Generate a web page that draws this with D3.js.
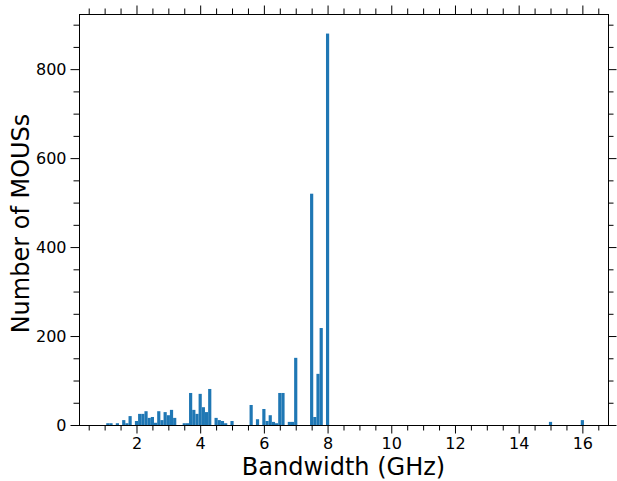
<!DOCTYPE html>
<html>
<head>
<meta charset="utf-8">
<script src="https://cdn.jsdelivr.net/npm/d3@7"></script>
<style>
  body { margin: 0; background: #fff; }
  svg { display: block; }
  text { font-family: "DejaVu Sans", sans-serif; fill: #000; }
</style>
</head>
<body>
<svg id="chart" width="617" height="481"></svg>
<script>
// ---- data (bins 0.1 GHz wide) ----
const binWidth = 0.1;
const binCenters = [1.1, 1.2, 1.4, 1.6, 1.7, 1.8, 2.0, 2.1, 2.2, 2.3, 2.4, 2.5, 2.6, 2.7, 2.8, 2.9,
  3.0, 3.1, 3.2, 3.5, 3.6, 3.7, 3.8, 3.9, 4.0, 4.1, 4.2, 4.3, 4.5, 4.6, 4.7, 4.8, 5.0,
  5.6, 5.8, 6.0, 6.1, 6.2, 6.3, 6.4, 6.5, 6.6, 6.8, 6.9, 7.0, 7.5, 7.6, 7.7, 7.8, 8.0, 15.0, 16.0];
const counts = [4, 4, 4, 11, 4, 20, 9, 25, 25, 31, 16, 18, 5, 31, 11, 29,
  22, 34, 16, 4, 4, 72, 34, 25, 70, 40, 29, 81, 16, 11, 9, 4, 9,
  45, 13, 36, 9, 22, 7, 4, 72, 72, 7, 7, 151, 520, 18, 115, 218, 880, 7, 11];
const dataRange = [0.95, 16.05];
const xMajorTicks = [2, 4, 6, 8, 10, 12, 14, 16];
const yMajorTicks = [0, 200, 400, 600, 800];
const xLabel = "Bandwidth (GHz)";
const yLabel = "Number of MOUSs";

// ---- layout ----
const L = 79, R = 608, T = 14, B = 425;
const svg = d3.select("#chart");
const span = dataRange[1] - dataRange[0];
const x = d3.scaleLinear().domain([dataRange[0] - 0.05 * span, dataRange[1] + 0.05 * span]).range([L, R]);
const yMax = d3.max(counts) * 1.05;
const y = d3.scaleLinear().domain([0, yMax]).range([B, T]);

const xMinor = d3.range(0.5, 16.81, 0.5).filter(v => Math.abs(v / 2 - Math.round(v / 2)) > 1e-6);
const yMinor = d3.range(50, yMax, 50).filter(v => v % 200 !== 0);

// bars
svg.append("g").selectAll("rect").data(binCenters.map((c, i) => ({c, n: counts[i]})))
  .join("rect")
  .attr("x", d => x(d.c - binWidth / 2))
  .attr("width", d => x(d.c + binWidth / 2) - x(d.c - binWidth / 2))
  .attr("y", d => y(d.n))
  .attr("height", d => y(0) - y(d.n))
  .attr("fill", "#1f77b4");

function styleAxis(g) {
  g.select(".domain").remove();
  g.selectAll(".tick line").attr("stroke", "#000").attr("stroke-width", 1);
  g.selectAll(".tick text").style("font-size", "16px").style("font-family", "DejaVu Sans");
}

const MAJ = 8.5, MIN = 5.5, PAD = 4;
// bottom
svg.append("g").attr("transform", `translate(0,${B})`)
  .call(d3.axisBottom(x).tickValues(xMajorTicks).tickSize(MAJ).tickPadding(PAD).tickFormat(d3.format("d")))
  .call(styleAxis);
svg.append("g").attr("transform", `translate(0,${B})`)
  .call(d3.axisBottom(x).tickValues(xMinor).tickSize(MIN).tickFormat(""))
  .call(styleAxis);
// top
svg.append("g").attr("transform", `translate(0,${T})`)
  .call(d3.axisTop(x).tickValues(xMajorTicks).tickSize(MAJ).tickFormat(""))
  .call(styleAxis);
svg.append("g").attr("transform", `translate(0,${T})`)
  .call(d3.axisTop(x).tickValues(xMinor).tickSize(MIN).tickFormat(""))
  .call(styleAxis);
// left
svg.append("g").attr("transform", `translate(${L},0)`)
  .call(d3.axisLeft(y).tickValues(yMajorTicks).tickSize(MAJ).tickPadding(PAD).tickFormat(d3.format("d")))
  .call(styleAxis);
svg.append("g").attr("transform", `translate(${L},0)`)
  .call(d3.axisLeft(y).tickValues(yMinor).tickSize(MIN).tickFormat(""))
  .call(styleAxis);
// right
svg.append("g").attr("transform", `translate(${R},0)`)
  .call(d3.axisRight(y).tickValues(yMajorTicks).tickSize(MAJ).tickFormat(""))
  .call(styleAxis);
svg.append("g").attr("transform", `translate(${R},0)`)
  .call(d3.axisRight(y).tickValues(yMinor).tickSize(MIN).tickFormat(""))
  .call(styleAxis);

// frame
svg.append("rect").attr("x", L).attr("y", T).attr("width", R - L).attr("height", B - T)
  .attr("fill", "none").attr("stroke", "#000").attr("stroke-width", 1)
  .attr("shape-rendering", "crispEdges");

// axis labels
svg.append("text").attr("x", (L + R) / 2).attr("y", 475)
  .attr("text-anchor", "middle").style("font-size", "24px").text(xLabel);
svg.append("text").attr("transform", `translate(29,${(T + B) / 2 + 4}) rotate(-90)`)
  .attr("text-anchor", "middle").style("font-size", "24px").text(yLabel);
</script>
</body>
</html>
